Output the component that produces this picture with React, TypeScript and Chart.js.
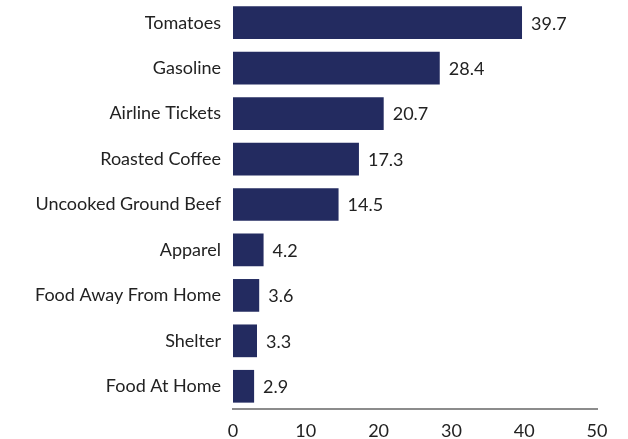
import React, { useEffect, useRef } from "react";
import { Chart, registerables } from "chart.js";

Chart.register(...registerables);

const categories = [
  "Tomatoes",
  "Gasoline",
  "Airline Tickets",
  "Roasted Coffee",
  "Uncooked Ground Beef",
  "Apparel",
  "Food Away From Home",
  "Shelter",
  "Food At Home",
];
const values = [39.7, 28.4, 20.7, 17.3, 14.5, 4.2, 3.6, 3.3, 2.9];
const xTicks = [0, 10, 20, 30, 40, 50];

const FONT = "Lato, 'Noto Sans', sans-serif";
const SIZE = 18;

const valueLabels = {
  id: "valueLabels",
  afterDatasetsDraw(chart: any) {
    const ctx = chart.ctx;
    const meta = chart.getDatasetMeta(0);
    ctx.save();
    ctx.font = `${SIZE}px ${FONT}`;
    ctx.fillStyle = "#222222";
    ctx.textAlign = "left";
    ctx.textBaseline = "middle";
    meta.data.forEach((bar: any, i: number) => {
      ctx.fillText(values[i].toFixed(1), bar.x + 9, bar.y + 1);
    });
    ctx.restore();
  },
};

export default function App() {
  const ref = useRef<HTMLCanvasElement>(null);
  useEffect(() => {
    if (!ref.current) return;
    const chart = new Chart(ref.current, {
      type: "bar",
      data: {
        labels: categories,
        datasets: [
          {
            data: values,
            backgroundColor: "#232B60",
            categoryPercentage: 1,
            barPercentage: 0.72,
          },
        ],
      },
      options: {
        indexAxis: "y",
        animation: false,
        responsive: false,
        layout: { padding: { top: 0, right: 31, left: 0, bottom: 0 } },
        plugins: { legend: { display: false }, tooltip: { enabled: false } },
        scales: {
          x: {
            min: 0,
            max: 50,
            afterBuildTicks: (s: any) => {
              s.ticks = xTicks.map((v) => ({ value: v }));
            },
            afterFit: (s: any) => {
              s.height = 30;
              s.paddingLeft = 0;
              s.paddingRight = 0;
            },
            grid: { display: false, drawTicks: false },
            border: { display: true, color: "#8c8c8c", width: 2 },
            ticks: {
              padding: 11,
              color: "#222222",
              font: { family: FONT, size: SIZE },
            },
          },
          y: {
            afterFit: (s: any) => {
              s.width = 233;
              s.paddingTop = 0;
              s.paddingBottom = 0;
            },
            grid: { display: false, drawTicks: false },
            border: { display: false },
            ticks: {
              padding: 12,
              color: "#222222",
              font: { family: FONT, size: SIZE },
            },
          },
        },
      },
      plugins: [valueLabels],
    });
    return () => chart.destroy();
  }, []);
  return (
    <div style={{ position: "fixed", left: 0, top: 0, width: 628, height: 439, background: "#fff" }}>
      <canvas ref={ref} width={628} height={439} />
    </div>
  );
}
